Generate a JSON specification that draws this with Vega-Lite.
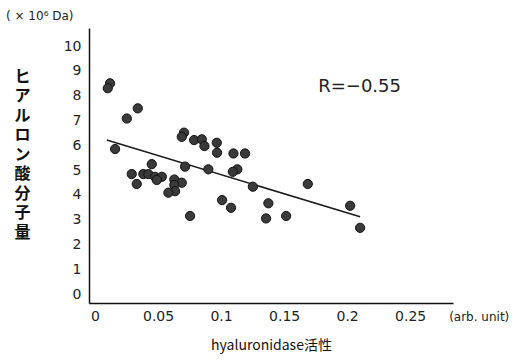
{
  "$schema": "https://vega.github.io/schema/vega-lite/v6.json",
  "width": 364,
  "height": 275,
  "autosize": {"type": "none"},
  "padding": {"left": 89, "top": 28, "right": 60, "bottom": 57},
  "background": "white",
  "config": {
    "view": {"stroke": null},
    "axis": {
      "grid": false,
      "ticks": false,
      "domainColor": "#111",
      "domainWidth": 1.5,
      "labelFont": "DejaVu Sans",
      "labelFontSize": 14,
      "labelColor": "#222"
    }
  },
  "title": {
    "text": "( × 10⁶ Da)",
    "anchor": "start",
    "frame": "group",
    "dx": -83,
    "offset": 5,
    "font": "DejaVu Sans",
    "fontSize": 12,
    "fontWeight": "normal",
    "color": "#222"
  },
  "datasets": {
    "pts": [
      {"activity": 0.0119, "mw": 8.50},
      {"activity": 0.0101, "mw": 8.30},
      {"activity": 0.0339, "mw": 7.49},
      {"activity": 0.0252, "mw": 7.08},
      {"activity": 0.0706, "mw": 6.51},
      {"activity": 0.0688, "mw": 6.34},
      {"activity": 0.0786, "mw": 6.21},
      {"activity": 0.0847, "mw": 6.24},
      {"activity": 0.0868, "mw": 5.97},
      {"activity": 0.0966, "mw": 6.10},
      {"activity": 0.0968, "mw": 5.70},
      {"activity": 0.1098, "mw": 5.67},
      {"activity": 0.1190, "mw": 5.67},
      {"activity": 0.1129, "mw": 5.03},
      {"activity": 0.1093, "mw": 4.93},
      {"activity": 0.0159, "mw": 5.85},
      {"activity": 0.0450, "mw": 5.24},
      {"activity": 0.0714, "mw": 5.14},
      {"activity": 0.0899, "mw": 5.03},
      {"activity": 0.1252, "mw": 4.33},
      {"activity": 0.0291, "mw": 4.84},
      {"activity": 0.0383, "mw": 4.84},
      {"activity": 0.0423, "mw": 4.84},
      {"activity": 0.0476, "mw": 4.73},
      {"activity": 0.0530, "mw": 4.73},
      {"activity": 0.0490, "mw": 4.60},
      {"activity": 0.0629, "mw": 4.62},
      {"activity": 0.0688, "mw": 4.49},
      {"activity": 0.0629, "mw": 4.40},
      {"activity": 0.0331, "mw": 4.44},
      {"activity": 0.0635, "mw": 4.15},
      {"activity": 0.0582, "mw": 4.09},
      {"activity": 0.0754, "mw": 3.15},
      {"activity": 0.1008, "mw": 3.79},
      {"activity": 0.1079, "mw": 3.48},
      {"activity": 0.1375, "mw": 3.66},
      {"activity": 0.1357, "mw": 3.05},
      {"activity": 0.1516, "mw": 3.15},
      {"activity": 0.1688, "mw": 4.44},
      {"activity": 0.2024, "mw": 3.56},
      {"activity": 0.2103, "mw": 2.67}
    ],
    "fit": [
      {"activity": 0.0093, "mw": 6.21},
      {"activity": 0.2103, "mw": 3.12}
    ],
    "note": [
      {"activity": 0.2099, "mw": 8.36, "label": "R=−0.55"}
    ],
    "unit": [
      {"activity": 0.3048, "mw": -0.93, "label": "(arb. unit)"}
    ]
  },
  "encoding": {
    "x": {
      "field": "activity",
      "type": "quantitative",
      "scale": {"domain": [-0.0048, 0.284], "nice": false, "zero": false},
      "axis": {
        "values": [0, 0.05, 0.1, 0.15, 0.2, 0.25],
        "labelExpr": "format(datum.value, '.2~f')",
        "labelPadding": 6,
        "labelFlush": false,
        "labelOverlap": false,
        "title": "hyaluronidase活性",
        "titleFont": "Noto Sans CJK JP",
        "titleFontSize": 14,
        "titleFontWeight": "normal",
        "titleColor": "#111",
        "titlePadding": 15
      }
    },
    "y": {
      "field": "mw",
      "type": "quantitative",
      "scale": {"domain": [-0.36, 10.73], "nice": false, "zero": false},
      "axis": {
        "values": [0, 1, 2, 3, 4, 5, 6, 7, 8, 9, 10],
        "tickCount": 11,
        "labelOverlap": false,
        "labelFlush": false,
        "labelPadding": 8,
        "title": ["ヒ", "ア", "ル", "ロ", "ン", "酸", "分", "子", "量"],
        "titleAngle": 0,
        "titleX": -67,
        "titleY": 40,
        "titleAlign": "center",
        "titleBaseline": "top",
        "titleFont": "Noto Sans CJK JP",
        "titleFontSize": 16,
        "titleFontWeight": "bold",
        "titleLineHeight": 19.5,
        "titleColor": "#111"
      }
    }
  },
  "layer": [
    {
      "data": {"name": "fit"},
      "mark": {"type": "line", "color": "#1a1a1a", "strokeWidth": 1.6}
    },
    {
      "data": {"name": "pts"},
      "mark": {"type": "point", "filled": true, "fill": "#3a3a3a", "stroke": "#111", "strokeWidth": 1, "size": 85, "opacity": 1}
    },
    {
      "data": {"name": "note"},
      "mark": {"type": "text", "font": "DejaVu Sans", "fontSize": 18, "letterSpacing": 2.5, "color": "#222", "align": "center", "baseline": "middle"},
      "encoding": {
        "text": {"field": "label"}
      }
    },
    {
      "data": {"name": "unit"},
      "mark": {"type": "text", "font": "DejaVu Sans", "fontSize": 12, "color": "#222", "align": "center", "baseline": "middle", "clip": false},
      "encoding": {
        "text": {"field": "label"}
      }
    }
  ]
}
